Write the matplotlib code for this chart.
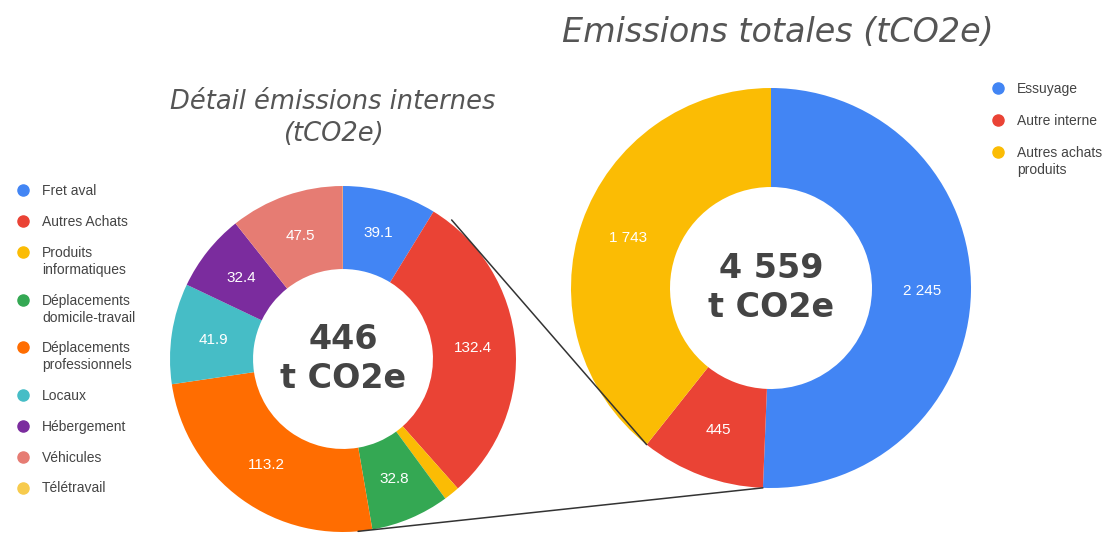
import numpy as np
import matplotlib.pyplot as plt
from matplotlib.lines import Line2D
from matplotlib.patches import ConnectionPatch

# données - détail des émissions internes
cat_int = ['Fret aval', 'Autres Achats', 'Produits\ninformatiques',
           'Déplacements\ndomicile-travail', 'Déplacements\nprofessionnels',
           'Locaux', 'Hébergement', 'Véhicules', 'Télétravail']
val_int = [39.1, 132.4, 6.6, 32.8, 113.2, 41.9, 32.4, 47.5, 0.1]
col_int = ['#4285F4', '#EA4335', '#FBBC04', '#34A853', '#FF6D01',
           '#46BDC6', '#7B2C9E', '#E67C73', '#F7CB4D']

# données - émissions totales
cat_tot = ['Essuyage', 'Autre interne', 'Autres achats\nproduits']
val_tot = [2245, 445, 1743]
col_tot = ['#4285F4', '#EA4335', '#FBBC04']

W, H = 1118, 534
fig = plt.figure(figsize=(W / 100, H / 100), dpi=100)


def donut_axes(cx, cy, r):
    # axes carré centré sur (cx, cy) en pixels de l'image
    return fig.add_axes([(cx - r) / W, (H - cy - r) / H, 2 * r / W, 2 * r / H])


def fr(v):
    if v >= 1000:
        return '{:,.0f}'.format(v).replace(',', ' ')
    return '{:g}'.format(v)


ax1 = donut_axes(343, 359, 173)
ax2 = donut_axes(771, 288, 200)

w1, _ = ax1.pie(val_int, colors=col_int, startangle=90, counterclock=False,
                wedgeprops=dict(width=0.48, linewidth=0))
w2, _ = ax2.pie(val_tot, colors=col_tot, startangle=90, counterclock=False,
                wedgeprops=dict(width=0.495, linewidth=0))

for ax, wedges, vals in [(ax1, w1, val_int), (ax2, w2, val_tot)]:
    ax.set_xlim(-1, 1)
    ax.set_ylim(-1, 1)
    ax.set_aspect('equal')
    ax.axis('off')
    for w, v in zip(wedges, vals):
        if v < 10:
            continue
        a = np.deg2rad((w.theta1 + w.theta2) / 2)
        ax.text(0.755 * np.cos(a), 0.755 * np.sin(a), fr(v), color='white',
                ha='center', va='center', fontsize=11, family='Liberation Sans')

# totaux au centre
for ax, txt in [(ax1, '446\nt CO2e'), (ax2, '4 559\nt CO2e')]:
    ax.text(0, 0, txt, ha='center', va='center', fontsize=24, fontweight='bold',
            color='#444444', family='DejaVu Sans', linespacing=1.25)

# lignes de liaison entre "Autre interne" et le détail
red = w2[1]
for a_left, r_left, a_right in [(52, 1.02, red.theta1), (-85, 1.0, red.theta2)]:
    pa = (np.cos(np.deg2rad(a_left)) * r_left, np.sin(np.deg2rad(a_left)) * r_left)
    pb = (np.cos(np.deg2rad(a_right)), np.sin(np.deg2rad(a_right)))
    con = ConnectionPatch(xyA=pa, coordsA=ax1.transData, xyB=pb, coordsB=ax2.transData,
                          color='#333333', lw=1.1)
    fig.add_artist(con)

# titres
fig.text(778 / W, 1 - 32 / H, 'Emissions totales (tCO2e)', ha='center', va='center',
         fontsize=24, style='italic', color='#555555', family='DejaVu Sans')
fig.text(333 / W, 1 - 118 / H, 'Détail émissions internes\n(tCO2e)', ha='center',
         va='center', fontsize=18.5, style='italic', color='#555555', family='DejaVu Sans',
         linespacing=1.3)


# légendes : pastille alignée sur la première ligne du libellé
def legend(x, y, labels, colors, pitch, extra):
    for lab, c in zip(labels, colors):
        fig.add_artist(Line2D([x / W], [1 - y / H], transform=fig.transFigure,
                              marker='o', ls='', color=c, markersize=8))
        fig.text((x + 19) / W, 1 - (y - 6) / H, lab, ha='left', va='top',
                 fontsize=10, family='Liberation Sans', color='#444444',
                 linespacing=1.3)
        y += pitch + extra * lab.count('\n')


legend(23, 190, cat_int, col_int, 31, 16.5)
legend(998, 88, cat_tot, col_tot, 32, 16.5)

plt.savefig('out.png', dpi=100)
plt.close()
